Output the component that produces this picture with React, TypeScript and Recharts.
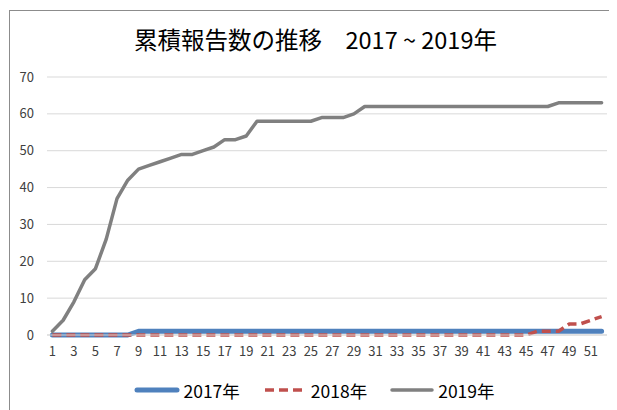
import React from "react";
import { LineChart, Line, XAxis, YAxis, CartesianGrid, Legend } from "recharts";

// weekly cumulative report counts
const weeks = Array.from({ length: 52 }, (_, i) => i + 1);

const counts2017 = [
  0, 0, 0, 0, 0, 0, 0, 0, 1, 1, 1, 1, 1, 1, 1, 1, 1, 1, 1, 1, 1, 1, 1, 1, 1, 1,
  1, 1, 1, 1, 1, 1, 1, 1, 1, 1, 1, 1, 1, 1, 1, 1, 1, 1, 1, 1, 1, 1, 1, 1, 1, 1,
];

const counts2018 = [
  0, 0, 0, 0, 0, 0, 0, 0, 0, 0, 0, 0, 0, 0, 0, 0, 0, 0, 0, 0, 0, 0, 0, 0, 0, 0,
  0, 0, 0, 0, 0, 0, 0, 0, 0, 0, 0, 0, 0, 0, 0, 0, 0, 0, 0, 1, 1, 1, 3, 3, 4, 5,
];

const counts2019 = [
  1, 4, 9, 15, 18, 26, 37, 42, 45, 46, 47, 48, 49, 49, 50, 51, 53, 53, 54, 58,
  58, 58, 58, 58, 58, 59, 59, 59, 60, 62, 62, 62, 62, 62, 62, 62, 62, 62, 62, 62,
  62, 62, 62, 62, 62, 62, 62, 63, 63, 63, 63, 63,
];

const xTicks = weeks.filter((w) => w % 2 === 1);
const yTicks = [0, 10, 20, 30, 40, 50, 60, 70];

const seriesInfo = [
  { key: "y2017", name: "2017年", color: "#4f81bd", width: 5, dash: undefined },
  { key: "y2018", name: "2018年", color: "#c0504d", width: 3.5, dash: "9 5" },
  { key: "y2019", name: "2019年", color: "#808080", width: 3.5, dash: undefined },
];

const chartData = weeks.map((w, i) => ({
  week: w,
  y2017: counts2017[i],
  y2018: counts2018[i],
  y2019: counts2019[i],
}));

const font = '"Noto Sans CJK JP", "Noto Sans", sans-serif';

function ChartLegend() {
  return (
    <div
      style={{
        display: "flex",
        justifyContent: "center",
        alignItems: "center",
        height: 24,
        fontFamily: font,
        fontSize: 17.5,
        color: "#000",
        paddingLeft: 12,
        boxSizing: "border-box",
      }}
    >
      {seriesInfo.map((s, i) => (
        <div
          key={s.key}
          style={{ display: "flex", alignItems: "center", marginLeft: i === 0 ? 0 : 22 }}
        >
          <svg width={46} height={10} style={{ marginRight: 3 }}>
            <line
              x1={3}
              y1={5}
              x2={43}
              y2={5}
              stroke={s.color}
              strokeWidth={s.width}
              strokeDasharray={s.dash}
              strokeLinecap={s.dash ? "butt" : "round"}
            />
          </svg>
          <span>{s.name}</span>
        </div>
      ))}
    </div>
  );
}

export default function App() {
  return (
    <div style={{ position: "relative", width: 609, height: 402, overflow: "hidden" }}>
      <div
        style={{
          position: "absolute",
          left: 1,
          top: 2,
          width: 700,
          height: 500,
          border: "1px solid #8c8c8c",
          background: "#fff",
        }}
      />
      <div
        style={{
          position: "absolute",
          left: -8,
          top: 16,
          width: 617,
          textAlign: "center",
          fontFamily: font,
          fontSize: 23.5,
          lineHeight: "30px",
          color: "#000",
          paddingLeft: 14,
          boxSizing: "border-box",
        }}
      >
        累積報告数の推移　2017 ~ 2019年
      </div>
      <div style={{ position: "absolute", left: -8, top: -8 }}>
        <LineChart
          width={617}
          height={410}
          data={chartData}
          margin={{ top: 77, right: 10, left: 0, bottom: 21 }}
        >
          <CartesianGrid vertical={false} stroke="#d9d9d9" strokeWidth={1} />
          <XAxis
            dataKey="week"
            type="number"
            domain={[0.5, 52.5]}
            ticks={xTicks}
            interval={0}
            height={30}
            tickLine={false}
            tickSize={0}
            tickMargin={12}
            axisLine={{ stroke: "#d9d9d9", strokeWidth: 1 }}
            tick={{ fill: "#404040", fontSize: 13, fontFamily: font }}
          />
          <YAxis
            domain={[0, 70]}
            ticks={yTicks}
            width={47}
            axisLine={false}
            tickLine={false}
            tickSize={0}
            tickMargin={13}
            tick={{ fill: "#404040", fontSize: 13, fontFamily: font }}
          />
          <Legend
            verticalAlign="bottom"
            content={() => <ChartLegend />}
            wrapperStyle={{ top: 378, left: 0, width: 617 }}
          />
          {seriesInfo.map((s) => (
            <Line
              key={s.key}
              type="linear"
              dataKey={s.key}
              name={s.name}
              stroke={s.color}
              strokeWidth={s.width}
              strokeDasharray={s.dash}
              strokeLinecap={s.dash ? "butt" : "round"}
              strokeLinejoin="round"
              dot={false}
              activeDot={false}
              isAnimationActive={false}
            />
          ))}
        </LineChart>
      </div>
    </div>
  );
}
